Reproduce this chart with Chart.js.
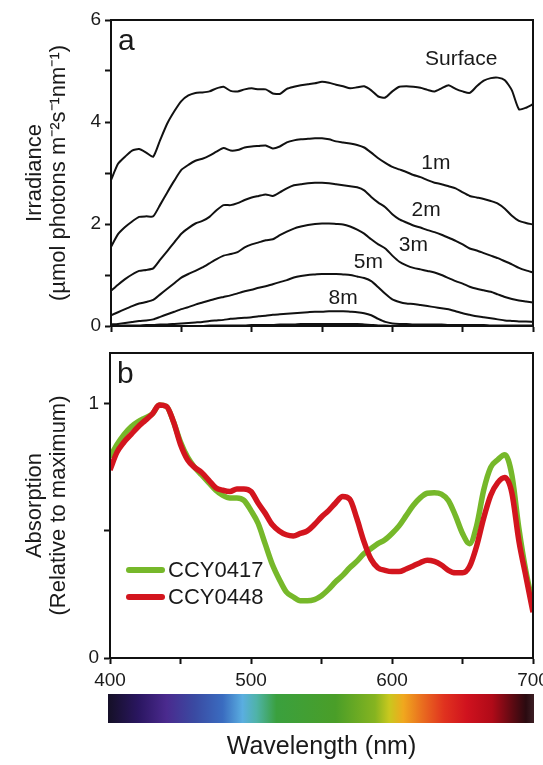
<!DOCTYPE html>
<html>
<head>
<meta charset="utf-8">
<script src="https://cdn.jsdelivr.net/npm/chart.js@4.4.1/dist/chart.umd.min.js"></script>
<style>
html, body { margin: 0; background: #fff; }
#fig { position: relative; width: 543px; height: 765px; }
#fig canvas { position: absolute; left: 0; }
#chA { top: 0; }
#chB { top: 340px; }
</style>
</head>
<body>
<div id="fig">
  <canvas id="chA" width="543" height="340"></canvas>
  <canvas id="chB" width="543" height="425"></canvas>
</div>
<script>
// Wavelength grid (nm) shared by every series
const WAVELENGTH = [
  400, 405, 410, 415, 420, 425, 430, 435, 440, 445, 450,
  455, 460, 465, 470, 475, 480, 485, 490, 495, 500,
  505, 510, 515, 520, 525, 530, 535, 540, 545, 550,
  555, 560, 565, 570, 575, 580, 585, 590, 595, 600,
  605, 610, 615, 620, 625, 630, 635, 640, 645, 650,
  655, 660, 665, 670, 675, 680, 685, 690, 695, 700
];

// (a) irradiance, µmol photons m-2 s-1 nm-1
const SURFACE = [
  2.86, 3.18, 3.32, 3.44, 3.47, 3.40, 3.32, 3.65, 3.97, 4.21, 4.41,
  4.52, 4.57, 4.58, 4.60, 4.66, 4.69, 4.61, 4.60, 4.64, 4.66,
  4.64, 4.64, 4.56, 4.55, 4.65, 4.69, 4.72, 4.74, 4.76, 4.79,
  4.77, 4.73, 4.70, 4.66, 4.68, 4.70, 4.62, 4.50, 4.48, 4.60,
  4.69, 4.70, 4.69, 4.67, 4.63, 4.60, 4.66, 4.72, 4.65, 4.60,
  4.57, 4.70, 4.81, 4.86, 4.87, 4.82, 4.62, 4.25, 4.28, 4.35
];
const DEPTH_1M = [
  1.55, 1.80, 1.94, 2.05, 2.14, 2.15, 2.15, 2.38, 2.62, 2.85, 3.06,
  3.16, 3.24, 3.28, 3.34, 3.42, 3.49, 3.44, 3.45, 3.50, 3.52,
  3.53, 3.54, 3.48, 3.52, 3.60, 3.64, 3.66, 3.67, 3.68, 3.68,
  3.66, 3.62, 3.60, 3.58, 3.55, 3.50, 3.40, 3.29, 3.20, 3.12,
  3.07, 3.02, 2.96, 2.92, 2.86, 2.81, 2.78, 2.74, 2.70, 2.62,
  2.55, 2.52, 2.49, 2.45, 2.40, 2.30, 2.16, 2.06, 2.02, 1.99
];
const DEPTH_2M = [
  0.69, 0.81, 0.92, 1.01, 1.08, 1.10, 1.13, 1.30, 1.47, 1.64, 1.81,
  1.92, 2.01, 2.06, 2.14, 2.27, 2.37, 2.37, 2.41, 2.47, 2.52,
  2.55, 2.58, 2.55, 2.62, 2.70, 2.76, 2.78, 2.80, 2.81, 2.81,
  2.80, 2.78, 2.76, 2.74, 2.72, 2.66, 2.53, 2.42, 2.33, 2.19,
  2.09, 2.03, 1.97, 1.93, 1.88, 1.84, 1.79, 1.73, 1.67, 1.60,
  1.52, 1.48, 1.43, 1.38, 1.33, 1.27, 1.21, 1.14, 1.09, 1.05
];
const DEPTH_3M = [
  0.21, 0.27, 0.33, 0.39, 0.44, 0.47, 0.51, 0.62, 0.73, 0.84, 0.95,
  1.02, 1.08, 1.15, 1.23, 1.31, 1.38, 1.41, 1.45, 1.54, 1.60,
  1.64, 1.68, 1.70, 1.78, 1.85, 1.91, 1.95, 1.98, 2.00, 2.01,
  2.01, 2.00, 1.99, 1.95, 1.89, 1.81, 1.70, 1.60, 1.52, 1.38,
  1.26, 1.19, 1.14, 1.11, 1.08, 1.05, 1.00, 0.94, 0.88, 0.83,
  0.77, 0.73, 0.70, 0.67, 0.62, 0.57, 0.53, 0.50, 0.48, 0.46
];
const DEPTH_5M = [
  0.03, 0.04, 0.06, 0.08, 0.10, 0.11, 0.13, 0.18, 0.23, 0.28, 0.33,
  0.37, 0.42, 0.46, 0.50, 0.54, 0.57, 0.60, 0.64, 0.68, 0.71,
  0.75, 0.78, 0.82, 0.86, 0.90, 0.95, 0.98, 1.00, 1.01, 1.02,
  1.02, 1.02, 1.01, 1.00, 0.97, 0.94, 0.88, 0.76, 0.63, 0.52,
  0.47, 0.44, 0.43, 0.41, 0.39, 0.37, 0.35, 0.33, 0.29, 0.25,
  0.22, 0.19, 0.17, 0.15, 0.13, 0.11, 0.10, 0.09, 0.09, 0.08
];
const DEPTH_8M = [
  0.00, 0.00, 0.01, 0.01, 0.01, 0.02, 0.02, 0.03, 0.03, 0.04, 0.05,
  0.06, 0.07, 0.08, 0.10, 0.11, 0.12, 0.14, 0.15, 0.16, 0.17,
  0.19, 0.20, 0.22, 0.23, 0.24, 0.25, 0.26, 0.27, 0.28, 0.28,
  0.29, 0.29, 0.29, 0.28, 0.27, 0.25, 0.21, 0.14, 0.08, 0.05,
  0.04, 0.04, 0.03, 0.03, 0.03, 0.03, 0.03, 0.02, 0.02, 0.02,
  0.02, 0.02, 0.02, 0.01, 0.01, 0.01, 0.01, 0.01, 0.01, 0.01
];
// deepest trace, unlabelled in the figure
const DEPTH_DEEP = [
  0, 0, 0, 0, 0, 0, 0, 0, 0, 0, 0,
  0, 0, 0, 0.01, 0.01, 0.01, 0.01, 0.01, 0.01, 0.02,
  0.02, 0.02, 0.02, 0.03, 0.03, 0.03, 0.04, 0.04, 0.04, 0.04,
  0.04, 0.04, 0.04, 0.04, 0.04, 0.03, 0.02, 0.01, 0.01, 0,
  0, 0, 0, 0, 0, 0, 0, 0, 0, 0,
  0, 0, 0, 0, 0, 0, 0, 0, 0, 0
];

// (b) absorption relative to maximum
const CCY0417 = [
  0.79, 0.84, 0.88, 0.91, 0.93, 0.945, 0.96, 0.995, 0.99, 0.93, 0.85,
  0.79, 0.75, 0.72, 0.69, 0.66, 0.64, 0.63, 0.63, 0.62, 0.58,
  0.53, 0.45, 0.37, 0.31, 0.26, 0.24, 0.225, 0.225, 0.23, 0.245,
  0.27, 0.30, 0.325, 0.355, 0.38, 0.41, 0.43, 0.45, 0.465, 0.49,
  0.52, 0.56, 0.60, 0.63, 0.648, 0.65, 0.645, 0.62, 0.56, 0.49,
  0.45, 0.52, 0.66, 0.75, 0.78, 0.80, 0.72, 0.51, 0.34, 0.21
];
const CCY0448 = [
  0.74, 0.81, 0.85, 0.88, 0.91, 0.935, 0.96, 0.995, 0.99, 0.93, 0.84,
  0.78, 0.75, 0.73, 0.70, 0.67, 0.66, 0.655, 0.665, 0.665, 0.655,
  0.61, 0.57, 0.525, 0.50, 0.485, 0.48, 0.49, 0.50, 0.525, 0.555,
  0.58, 0.61, 0.635, 0.625, 0.55, 0.46, 0.39, 0.355, 0.345, 0.34,
  0.34, 0.35, 0.362, 0.375, 0.385, 0.38, 0.366, 0.345, 0.335, 0.335,
  0.36, 0.44, 0.55, 0.64, 0.69, 0.71, 0.65, 0.46, 0.32, 0.18
];

// visible spectrum strip under panel b
const SPECTRUM_NM = [400, 420, 440, 460, 480, 494, 504, 518, 560, 588, 598, 608, 622, 637, 653, 671, 686, 695, 700];
const SPECTRUM_COLOR = ['#16102a', '#2a1660', '#4a2a8e', '#3a4aa2', '#3a6cc0', '#5aaee0', '#4fb3a8', '#3aa03e',
                        '#4a9e28', '#86b420', '#c9c81e', '#f0a81e', '#e96b1f', '#e0321f', '#d0121e', '#b00a18',
                        '#5a0a12', '#2a0a10', '#3a1c22'];

const FONT = "'Liberation Sans', Arial, sans-serif";
const INK = '#111';
Chart.defaults.font.family = FONT;
Chart.defaults.color = '#1a1a1a';

const pts = (vals) => WAVELENGTH.map((w, i) => ({ x: w, y: vals[i] }));

const tickGrid = { drawOnChartArea: false, drawTicks: true, tickLength: 6, tickColor: INK, tickWidth: 2 };
const border = { display: true, color: INK, width: 2 };

// frame + panel letter
const frame = {
    id: 'frame',
    afterDatasetsDraw(chart, args, o) {
        const { ctx, chartArea: a } = chart;
        ctx.save();
        ctx.strokeStyle = INK;
        ctx.lineWidth = 2;
        ctx.strokeRect(a.left, a.top, a.right - a.left, a.bottom - a.top);
        ctx.fillStyle = '#1a1a1a';
        ctx.font = `30px ${FONT}`;
        ctx.textAlign = 'left';
        ctx.textBaseline = 'alphabetic';
        ctx.fillText(o.letter, a.left + 7, a.top + 30);
        ctx.restore();
    }
};

// depth labels, placed in data units
const curveLabels = {
    id: 'curveLabels',
    afterDatasetsDraw(chart, args, o) {
        const { ctx, scales: { x, y } } = chart;
        ctx.save();
        ctx.fillStyle = '#1a1a1a';
        ctx.font = `21px ${FONT}`;
        ctx.textAlign = 'center';
        ctx.textBaseline = 'middle';
        o.items.forEach(l => ctx.fillText(l.text, x.getPixelForValue(l.nm), y.getPixelForValue(l.v)));
        ctx.restore();
    }
};

// legend inside the plot, lower left
const insideLegend = {
    id: 'insideLegend',
    afterDatasetsDraw(chart) {
        const { ctx, chartArea: a } = chart;
        ctx.save();
        ctx.font = `22px ${FONT}`;
        ctx.textBaseline = 'middle';
        ctx.lineCap = 'round';
        chart.data.datasets.forEach((ds, i) => {
            const yy = a.top + 217 + i * 27;
            ctx.strokeStyle = ds.borderColor;
            ctx.lineWidth = 6;
            ctx.beginPath();
            ctx.moveTo(a.left + 19, yy);
            ctx.lineTo(a.left + 52, yy);
            ctx.stroke();
            ctx.fillStyle = '#1a1a1a';
            ctx.fillText(ds.label, a.left + 58, yy + 1);
        });
        ctx.restore();
    }
};

// spectrum strip below the x axis
const spectrum = {
    id: 'spectrum',
    afterDraw(chart) {
        const { ctx, chartArea: a, scales: { x } } = chart;
        const x0 = x.getPixelForValue(SPECTRUM_NM[0]);
        const x1 = x.getPixelForValue(SPECTRUM_NM[SPECTRUM_NM.length - 1]);
        const g = ctx.createLinearGradient(x0, 0, x1, 0);
        SPECTRUM_NM.forEach((nm, i) => g.addColorStop((x.getPixelForValue(nm) - x0) / (x1 - x0), SPECTRUM_COLOR[i]));
        ctx.save();
        ctx.fillStyle = g;
        ctx.fillRect(x0 - 2, a.bottom + 36, x1 - x0 + 3, 29);
        ctx.restore();
    }
};

// Panel a — downwelling irradiance with depth
new Chart(document.getElementById('chA'), {
    type: 'line',
    data: {
        datasets: [
            { label: 'Surface', data: pts(SURFACE) },
            { label: '1m', data: pts(DEPTH_1M) },
            { label: '2m', data: pts(DEPTH_2M) },
            { label: '3m', data: pts(DEPTH_3M) },
            { label: '5m', data: pts(DEPTH_5M) },
            { label: '8m', data: pts(DEPTH_8M) },
            { label: 'deep', data: pts(DEPTH_DEEP) }
        ].map(d => ({ ...d, borderColor: INK, borderWidth: 2, pointRadius: 0, tension: 0.2, fill: false }))
    },
    options: {
        responsive: false,
        animation: false,
        layout: { padding: { top: 20, right: 10, left: 0, bottom: 0 } },
        plugins: {
            legend: { display: false },
            tooltip: { enabled: false },
            frame: { letter: 'a' },
            curveLabels: {
                items: [
                    { text: 'Surface', nm: 649, v: 5.23 },
                    { text: '1m', nm: 631, v: 3.19 },
                    { text: '2m', nm: 624, v: 2.27 },
                    { text: '3m', nm: 615, v: 1.59 },
                    { text: '5m', nm: 583, v: 1.25 },
                    { text: '8m', nm: 565, v: 0.54 }
                ]
            }
        },
        scales: {
            x: {
                type: 'linear', min: 400, max: 700,
                border, grid: tickGrid,
                ticks: { stepSize: 50, callback: () => '' },
                afterFit(s) { s.height = 14; s.paddingLeft = 0; s.paddingRight = 0; }
            },
            y: {
                min: 0, max: 6,
                border, grid: tickGrid,
                ticks: { stepSize: 1, padding: 4, font: { size: 19 }, callback: v => (v % 2 === 0 ? v : '') },
                title: {
                    display: true,
                    text: ['Irradiance', '(µmol photons m⁻²s⁻¹nm⁻¹)'],
                    font: { size: 22, lineHeight: 1.09 },
                    padding: { top: 23, bottom: 0 }
                },
                afterFit(s) { s.width = 111; s.paddingTop = 0; s.paddingBottom = 0; }
            }
        }
    },
    plugins: [frame, curveLabels]
});

// Panel b — absorption spectra of the two strains
new Chart(document.getElementById('chB'), {
    type: 'line',
    data: {
        datasets: [
            { label: 'CCY0417', data: pts(CCY0417), borderColor: '#76b82a', order: 1 },
            { label: 'CCY0448', data: pts(CCY0448), borderColor: '#d3151e', order: 0 }
        ].map(d => ({ ...d, borderWidth: 5.5, pointRadius: 0, cubicInterpolationMode: 'monotone', fill: false }))
    },
    options: {
        responsive: false,
        animation: false,
        layout: { padding: { top: 13, right: 10, left: 0, bottom: 0 } },
        plugins: {
            legend: { display: false },
            tooltip: { enabled: false },
            frame: { letter: 'b' }
        },
        scales: {
            x: {
                type: 'linear', min: 400, max: 700,
                border, grid: tickGrid,
                ticks: { stepSize: 50, padding: 5, maxRotation: 0, font: { size: 19 }, callback: v => (v % 100 === 0 ? v : '') },
                title: {
                    display: true,
                    text: 'Wavelength (nm)',
                    font: { size: 25, lineHeight: 1.2 },
                    padding: { top: 0, bottom: 3 }
                },
                afterFit(s) { s.height = 107; s.paddingLeft = 0; s.paddingRight = 0; }
            },
            y: {
                min: 0, max: 1.2,
                border, grid: tickGrid,
                ticks: { stepSize: 0.5, padding: 5, font: { size: 19 }, callback: v => (v === 0 || v === 1 ? v : '') },
                afterBuildTicks(s) { s.ticks = s.ticks.filter(t => t.value <= 1); },
                title: {
                    display: true,
                    text: ['Absorption', '(Relative to maximum)'],
                    font: { size: 22, lineHeight: 1.09 },
                    padding: { top: 23, bottom: 0 }
                },
                afterFit(s) { s.width = 110; s.paddingTop = 0; s.paddingBottom = 0; }
            }
        }
    },
    plugins: [frame, insideLegend, spectrum]
});
</script>
</body>
</html>
